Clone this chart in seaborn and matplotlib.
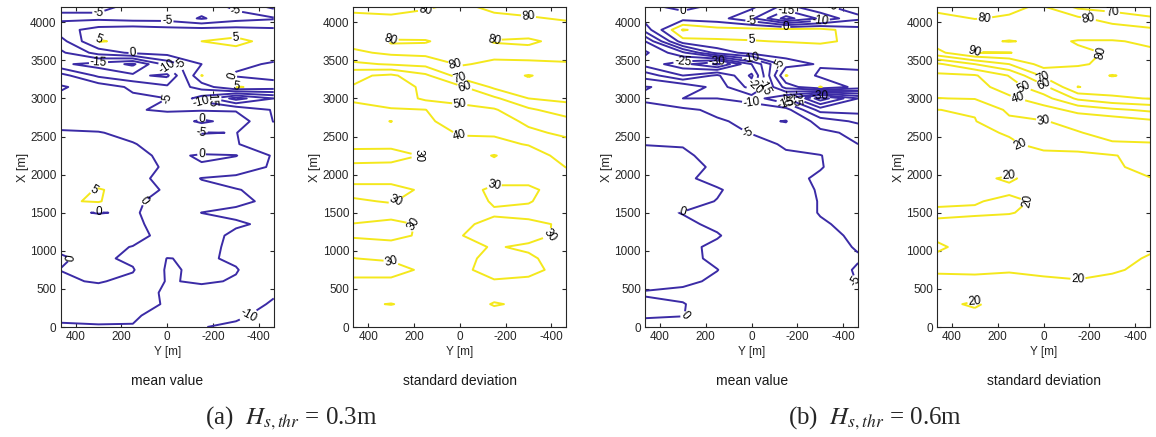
import numpy as np
import matplotlib
matplotlib.use("Agg")
import matplotlib.pyplot as plt
import seaborn as sns

# Grid: cross-shore rows X [m] (top to bottom) and alongshore columns Y [m] (left to right)
x_rows = [4200, 4050, 3900, 3750, 3600, 3450, 3300, 3150, 3000, 2850, 2700, 2550, 2400,
          2250, 2100, 1950, 1800, 1650, 1500, 1350, 1200, 1050, 900, 750, 600, 450, 300, 150, 0]
y_cols = [465, 300, 150, 0, -150, -300, -465]

# (a) Hs,thr = 0.3 m : mean value
mean_03 = [
    [-4, -4, -6, -6, -8, -4, 1],
    [-6, -6, -7, -7, -10.5, -7, -5.5],
    [-2, 2, 3, 2, 2, 2, 1],
    [-7, 5.5, 3.5, 2, 5, 6.5, 3],
    [-11, -3, 1, 2, 2.5, 3, 2],
    [-14, -17, -21, -8, 0, 1, -0.5],
    [-3, -11, -14, -16, 5.2, -0.5, -2],
    [0.5, -2, -6, -9, -3, 5.5, 3],
    [-1, -3, -4, -5, -12, -22, -15],
    [-1.5, -3, -4.8, -5.3, -5.5, -5.5, -10.5],
    [-1, -2, -3, -3.5, 1, -2, -10.2],
    [0.3, 0.2, -1, -3, -5.2, -4.9, -8],
    [1.5, 1.2, 0.2, -1.5, -3, -4.9, -6],
    [2, 2, 1, -0.8, 0.4, 0.2, -5.6],
    [2.5, 2.5, 1.5, -0.5, -0.3, -3, -5.5],
    [2.5, 3, 1, -1, -5.2, -5.8, -6],
    [3, 5.3, 3.5, -1, -3.5, -4.9, -5.6],
    [4.5, 5.4, 1, -2, -3, -4.5, -5.5],
    [0.8, -0.2, 0.5, -2, -5.05, -5.5, -6],
    [1.5, 2, 1, -2, -3, -4.7, -5.5],
    [1, 1.5, 1, -1, -4, -5.5, -6],
    [0.5, 0.8, -0.1, -2, -4.2, -5.6, -6],
    [-0.3, 0.8, -0.8, -5.1, -4.5, -5.5, -7],
    [0.05, 1, 0.3, -5.5, -4.3, -4.8, -7.5],
    [-0.5, 0.3, -1, -5.3, -4.5, -5.3, -8],
    [-2, -1.5, -3.5, -5.5, -6.5, -7.5, -9.5],
    [-3, -2.5, -3, -5.5, -7, -8, -10.5],
    [-4, -4, -4.5, -6.5, -8, -9.5, -11],
    [-5.6, -5.3, -5.2, -7, -9.9, -10.5, -12],
]

# (a) Hs,thr = 0.3 m : standard deviation
std_03 = [
    [78, 78, 79, 82, 78, 78, 77],
    [82, 81, 83, 84, 82, 80.5, 79.5],
    [84, 83, 84, 85, 84, 83, 82],
    [84, 79.5, 79.5, 83, 79.5, 79, 82],
    [78, 82, 83, 84, 83, 82, 82],
    [68, 71, 73, 81, 78, 79, 79.5],
    [52, 48, 58, 74, 74, 69.5, 74],
    [49.5, 45, 52, 58, 72, 73, 73],
    [41, 43, 52, 52, 58, 70, 72],
    [38, 39.5, 39.8, 48, 49, 58, 66],
    [34, 29.8, 38, 45, 45, 52, 56],
    [33, 33, 35, 41, 41, 48, 52],
    [31.5, 32, 33, 37, 38, 40.5, 47],
    [28, 27, 30.7, 35, 29.5, 36, 43],
    [31, 32, 33, 35, 33, 34, 40.2],
    [32, 33, 34, 36, 33, 33, 37],
    [28, 27, 31.5, 34, 28, 28, 35],
    [30.8, 29.5, 33, 35, 29, 29.5, 34],
    [33, 33, 34, 34, 31, 32, 33],
    [29.8, 28, 31, 31.5, 28, 28.5, 31],
    [29.5, 28.5, 31, 30.3, 27, 28, 31.5],
    [32, 32, 33, 32, 29.5, 31, 33],
    [29.9, 31, 33, 32, 28, 29, 33],
    [28, 27, 31.5, 31.5, 27.5, 28.5, 32],
    [31, 31.5, 33, 33, 30.5, 31, 33],
    [33, 33, 34, 34, 32, 33, 34],
    [31, 29.8, 32, 33, 29.6, 31, 34],
    [33, 33, 34, 34, 32, 33, 34],
    [34, 34, 35, 35, 33, 34, 35],
]

# (b) Hs,thr = 0.6 m : mean value
mean_06 = [
    [-1, 1, -1, -4, -12, -6, -3],
    [-3, -2, -3, -9, -22, -14, -6],
    [-8, 10.5, 7, 7, 7, 7, 2],
    [-20, 3, 4.5, 4.8, 5.2, 5.8, 4],
    [-26, -16, -3, 2, 2, 2, 1],
    [-22, -28, -36, -20, -2, 0.5, 1],
    [-12, -20, -14, -26, 5.3, -1, -1],
    [-4.8, -6, -12, -22, -3, 5.3, -2],
    [-5.5, -10, -10, -12, -20, -38, -25],
    [-4, -4, -6, -7, -8, -22, -22],
    [-2, -3, -4.5, -6, -4.8, -12, -16],
    [-1, -2.5, -3.5, -5.2, -7, -9, -11],
    [-0.1, -0.2, -2, -3.5, -5.5, -8, -10],
    [1, 0.5, -1, -3, -4.5, -4.8, -9],
    [1.5, 1, -0.5, -2.5, -3.5, -4.8, -7],
    [1.5, 0.6, -1, -2.5, -4, -5.5, -7],
    [2, 1.5, 0.3, -1.5, -3.5, -5.3, -7],
    [2, 1, -0.1, -1.5, -3, -5.2, -7],
    [0.8, -0.1, -1, -2, -3, -5.2, -7],
    [1.5, 0.5, -0.5, -2, -3, -4.6, -6],
    [2, 1.2, 0.2, -1.5, -2.5, -4.2, -5.5],
    [2, 0.6, -0.5, -1.5, -2.5, -4, -5.2],
    [2, 0.7, -0.5, -1.5, -2.5, -3.5, -4.8],
    [2, 1, 0.05, -1.5, -2.5, -3.5, -5.3],
    [1.5, 0.5, -0.4, -1.5, -2.5, -3.5, -5.1],
    [-0.3, -0.5, -1, -1.5, -2.5, -3.5, -4.5],
    [0.6, 0.1, -1, -1.5, -2.5, -3.5, -4.5],
    [0.3, 0.05, -1, -1.5, -2.5, -3.5, -4.5],
    [-1, -0.7, -1.2, -1.5, -2.5, -3.5, -4.5],
]

# (b) Hs,thr = 0.6 m : standard deviation
std_06 = [
    [78, 78.5, 79, 80.8, 68, 66, 65],
    [82, 79.8, 80.5, 85, 82, 75.5, 71],
    [83, 84, 86, 86, 85, 85, 82],
    [85, 82, 79.5, 82, 79.5, 79.5, 81],
    [77, 90.5, 90.3, 86, 81, 79.5, 79],
    [48, 60, 70, 84, 81, 78, 79],
    [38, 39, 50.5, 72, 75, 69.5, 74],
    [34, 36, 45, 57, 80.3, 76, 78],
    [29.8, 30.5, 38, 46, 62, 68, 70.5],
    [19.9, 20.8, 32, 36, 43, 48, 52],
    [19.5, 19.6, 28, 29.5, 33, 34, 38],
    [19.5, 19.3, 20.3, 24, 29.5, 33, 33],
    [19.5, 19.5, 19.5, 21, 21.5, 29, 29.5],
    [19.5, 19.5, 19, 19.2, 19.2, 19.5, 23],
    [19.5, 19.5, 19, 19, 19, 19.5, 21],
    [19.5, 19.5, 20.3, 19, 18.5, 19, 19.9],
    [19.5, 19.5, 19.5, 19, 18.5, 18.5, 19],
    [19.5, 19.8, 20.6, 19.5, 19, 18.5, 19],
    [20.5, 20.4, 20.2, 19, 18.5, 18.5, 19],
    [19.5, 19, 18.5, 18, 18, 18.5, 19],
    [19.5, 19, 18.5, 18, 18, 18.5, 19],
    [20.4, 19, 18.5, 18, 18, 18.5, 19.5],
    [19.5, 19, 19, 18.5, 18.5, 19, 20.3],
    [19.5, 19.3, 19.7, 19.2, 19, 19.5, 21],
    [21, 21, 21, 20.6, 20.2, 21, 21.5],
    [22, 21.5, 22, 22, 21.5, 22, 22.5],
    [21, 19.5, 22, 22, 22, 22, 23],
    [22, 21, 22, 23, 23, 23, 24],
    [23, 22, 23, 23, 23, 23, 24],
]

levels_mean_03 = [-20, -15, -10, -5, 0, 5]
levels_mean_06 = [-35, -30, -25, -20, -15, -10, -5, 0, 5, 10]
levels_std_03 = [30, 40, 50, 60, 70, 80]
levels_std_06 = [20, 30, 40, 50, 60, 70, 80, 90]

subtitles = ["mean value", "standard deviation", "mean value", "standard deviation"]
captions = [r"(a)  $H_{s,thr}$ = 0.3m", r"(b)  $H_{s,thr}$ = 0.6m"]

LOW = "#3b2ba6"
HIGH = "#f4e81c"
INK = "#262626"

sns.set_style("ticks")
plt.rcParams["font.family"] = ["Liberation Sans", "DejaVu Sans"]
plt.rcParams["mathtext.fontset"] = "stix"
plt.rcParams["axes.unicode_minus"] = False

fig = plt.figure(figsize=(11.56, 4.37), dpi=100)

panels = [(mean_03, levels_mean_03), (std_03, levels_std_03),
          (mean_06, levels_mean_06), (std_06, levels_std_06)]
lefts = [0.0525, 0.3056, 0.558, 0.8106]
width, bottom, height = 0.1843, 0.2517, 0.7323

yy = np.array(y_cols[::-1], dtype=float)
xx = np.array(x_rows[::-1], dtype=float)

for (field, levels), left, sub in zip(panels, lefts, subtitles):
    ax = fig.add_axes([left, bottom, width, height])
    z = np.array(field, dtype=float)[::-1, ::-1]
    colors = [LOW if lv <= 0 else HIGH for lv in levels]
    cs = ax.contour(yy, xx, z, levels=levels, colors=colors, linewidths=1.4)
    ax.clabel(cs, fmt="%d", fontsize=8.5, inline=True, inline_spacing=1, colors="black")
    ax.set_xlim(465, -465)
    ax.set_ylim(0, 4200)
    ax.set_xticks([400, 200, 0, -200, -400])
    ax.set_yticks([0, 500, 1000, 1500, 2000, 2500, 3000, 3500, 4000])
    ax.tick_params(direction="in", top=True, right=True, length=3, width=0.8,
                   labelsize=8.5, colors=INK, pad=3)
    for sp in ax.spines.values():
        sp.set_color(INK)
        sp.set_linewidth(0.8)
    ax.set_xlabel("Y [m]", fontsize=8.5, labelpad=2, color=INK)
    ax.set_ylabel("X [m]", fontsize=9, labelpad=1, color=INK)
    cx = left + width / 2
    fig.text(cx, (437 - 381) / 437, sub, ha="center", va="center", fontsize=10, color="#1a1a1a")

fig.text(291 / 1156, (437 - 418) / 437, captions[0], ha="center", va="center",
         fontsize=18, family="Liberation Serif")
fig.text(875 / 1156, (437 - 418) / 437, captions[1], ha="center", va="center",
         fontsize=18, family="Liberation Serif")

fig.savefig("out.png", dpi=100)
